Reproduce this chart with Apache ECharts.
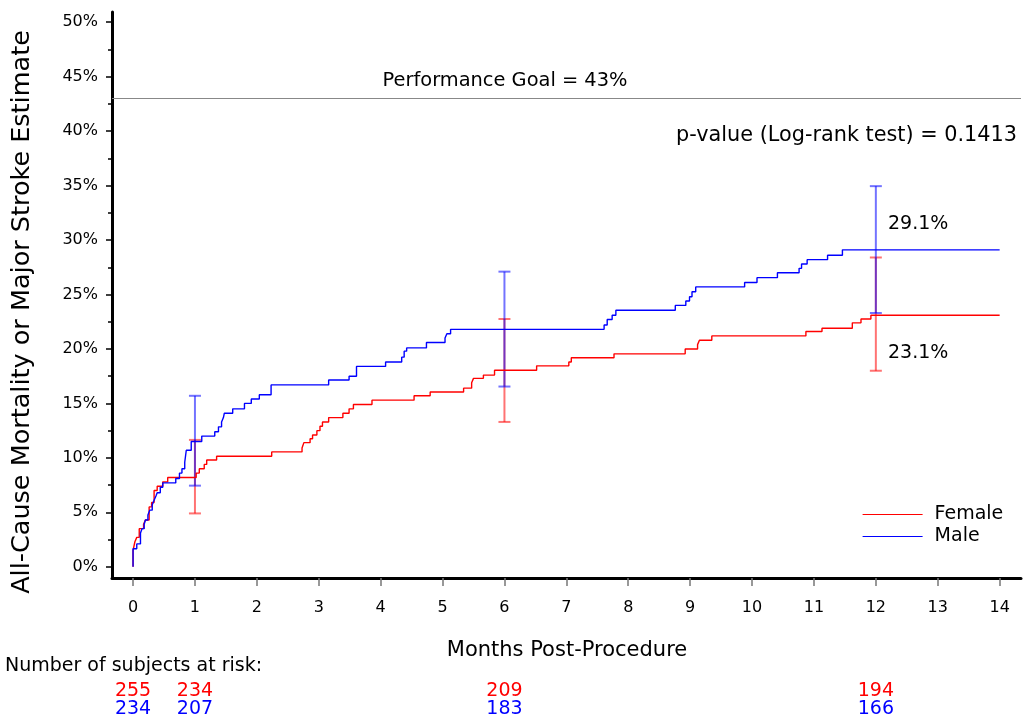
<!DOCTYPE html>
<html><head><meta charset="utf-8">
<script src="https://cdn.jsdelivr.net/npm/echarts@6/dist/echarts.min.js"></script>
<style>html,body{margin:0;padding:0;background:#fff}#c{width:1023px;height:719px}</style>
</head><body><div id="c"></div>
<script>
// Kaplan-Meier step curves: [month, estimate %]
const femaleCurve = [[0,0],[0,1.5],[0.03,2.3],[0.06,2.7],[0.10,3.5],[0.17,3.9],[0.20,4.3],[0.26,5.5],[0.30,5.9],[0.34,7.0],[0.39,7.4],[0.48,7.8],[0.56,8.2],[1.02,8.6],[1.07,9.0],[1.15,9.4],[1.19,9.8],[1.35,10.15],[2.24,10.55],[2.73,10.9],[2.76,11.4],[2.86,11.75],[2.90,12.1],[2.97,12.5],[3.02,12.9],[3.06,13.3],[3.16,13.7],[3.39,14.1],[3.49,14.5],[3.56,14.9],[3.86,15.3],[4.54,15.7],[4.80,16.05],[5.34,16.4],[5.47,16.9],[5.50,17.3],[5.66,17.6],[5.84,18.05],[6.52,18.45],[7.04,18.8],[7.08,19.2],[7.77,19.55],[8.92,20.0],[9.12,20.4],[9.15,20.8],[9.35,21.2],[10.87,21.6],[11.13,21.9],[11.62,22.4],[11.76,22.75],[11.92,23.1],[14.0,23.1]];
const maleCurve = [[0,0],[0,1.65],[0.06,2.1],[0.12,3.1],[0.145,3.5],[0.18,3.9],[0.20,4.3],[0.24,4.75],[0.27,5.2],[0.31,5.7],[0.34,6.1],[0.37,6.5],[0.39,6.8],[0.44,7.3],[0.48,7.7],[0.69,8.1],[0.75,8.6],[0.79,9.0],[0.835,9.6],[0.86,10.7],[0.94,11.5],[1.11,12.0],[1.32,12.4],[1.38,12.85],[1.43,13.3],[1.46,13.7],[1.475,14.1],[1.61,14.5],[1.80,15.0],[1.91,15.4],[2.04,15.8],[2.23,16.7],[3.16,17.15],[3.49,17.5],[3.61,18.4],[4.08,18.8],[4.34,19.25],[4.38,19.8],[4.42,20.1],[4.74,20.6],[5.04,21.0],[5.07,21.4],[5.13,21.8],[7.61,22.2],[7.66,22.7],[7.74,23.1],[7.80,23.55],[8.76,24.0],[8.93,24.4],[8.99,24.8],[9.03,25.25],[9.09,25.7],[9.88,26.1],[10.08,26.55],[10.41,27.0],[10.76,27.4],[10.80,27.8],[10.89,28.2],[11.22,28.6],[11.46,29.1],[14.0,29.1]];

const ciTimes = [1, 6, 12];
const femaleLow = [4.9, 13.3, 18.0];
const femaleHigh = [11.65, 22.75, 28.4];
const maleLow = [7.45, 16.55, 23.3];
const maleHigh = [15.7, 27.1, 34.95];

const riskTimes = [0, 1, 6, 12];
const riskFemale = [255, 234, 209, 194];
const riskMale = [234, 207, 183, 166];

const xTicks = [0,1,2,3,4,5,6,7,8,9,10,11,12,13,14];
const yMajorTicks = [0,5,10,15,20,25,30,35,40,45,50];
const yMinorTicks = [2.5,7.5,12.5,17.5,22.5,27.5,32.5,37.5,42.5,47.5];

const goal = 43;
const pValue = '0.1413';
const finalFemale = '23.1%';
const finalMale = '29.1%';

const FONT = 'DejaVu Sans';
const RED = '#ff0000', BLUE = '#0000ff';
const X_MIN = -0.34, X_MAX = 14.345, Y_MIN = -1.03, Y_MAX = 50.94;

const chart = echarts.init(document.getElementById('c'), null, {renderer: 'canvas'});

function ciSeries(name, low, high, color) {
  return {
    type: 'custom', name: name + ' CI', xAxisIndex: 0, yAxisIndex: 0, clip: false, silent: true, z: 3,
    data: ciTimes.map((t, i) => [t, low[i], high[i]]),
    renderItem: function (params, api) {
      const lo = api.coord([api.value(0), api.value(1)]);
      const hi = api.coord([api.value(0), api.value(2)]);
      const hw = 6;
      const st = {stroke: color, lineWidth: 2, opacity: 0.55};
      return {type: 'group', children: [
        {type: 'line', shape: {x1: lo[0], y1: lo[1], x2: hi[0], y2: hi[1]}, style: st},
        {type: 'line', shape: {x1: lo[0]-hw, y1: lo[1], x2: lo[0]+hw, y2: lo[1]}, style: st},
        {type: 'line', shape: {x1: hi[0]-hw, y1: hi[1], x2: hi[0]+hw, y2: hi[1]}, style: st}
      ]};
    }
  };
}

function riskAxis(values, color, offset) {
  return {
    type: 'value', position: 'bottom', offset: offset, min: X_MIN, max: X_MAX, gridIndex: 0,
    axisLine: {show: false}, axisTick: {show: false}, splitLine: {show: false},
    axisLabel: {
      show: true, customValues: riskTimes, margin: 4, color: color, fontFamily: FONT, fontSize: 19,
      formatter: function (v) { const i = riskTimes.indexOf(v); return i >= 0 ? String(values[i]) : ''; }
    }
  };
}

chart.setOption({
  animation: false,
  backgroundColor: '#ffffff',
  grid: {left: 112, right: 2, top: 12, bottom: 139, containLabel: false},
  xAxis: [
    {
      type: 'value', position: 'bottom', min: X_MIN, max: X_MAX,
      axisLine: {show: true, onZero: false, lineStyle: {color: '#000', width: 3}},
      axisTick: {show: true, customValues: xTicks, length: 8, lineStyle: {color: '#777', width: 1.5}},
      axisLabel: {show: true, customValues: xTicks, margin: 22, color: '#000', fontFamily: FONT, fontSize: 16},
      splitLine: {show: false}
    },
    riskAxis(riskFemale, RED, 100),
    riskAxis(riskMale, BLUE, 118)
  ],
  yAxis: [
    {
      type: 'value', position: 'left', min: Y_MIN, max: Y_MAX,
      axisLine: {show: true, onZero: false, lineStyle: {color: '#000', width: 3}},
      axisTick: {show: true, customValues: yMajorTicks, length: 6, lineStyle: {color: '#000', width: 1.5}},
      axisLabel: {show: true, customValues: yMajorTicks, margin: 14, color: '#000', fontFamily: FONT, fontSize: 16,
        formatter: v => v + '%'},
      splitLine: {show: false}
    },
    {
      type: 'value', position: 'left', min: Y_MIN, max: Y_MAX,
      axisLine: {show: false, onZero: false},
      axisTick: {show: true, customValues: yMinorTicks, length: 4, lineStyle: {color: '#000', width: 1.5}},
      axisLabel: {show: false},
      splitLine: {show: false}
    }
  ],
  legend: {
    show: true, orient: 'vertical', left: 862, top: 505, itemGap: 3, padding: 0,
    itemWidth: 60, itemHeight: 19,
    itemStyle: {opacity: 0},
    lineStyle: {width: 1.2},
    textStyle: {fontFamily: FONT, fontSize: 19, color: '#000', padding: [3, 0, 0, 7]},
    data: ['Female', 'Male'],
    selectedMode: false
  },
  series: [
    {
      name: 'Female', type: 'line', step: 'end', data: femaleCurve, showSymbol: false, symbol: 'none',
      xAxisIndex: 0, yAxisIndex: 0, color: RED, itemStyle: {color: RED}, lineStyle: {color: RED, width: 1.4}, z: 4,
      markLine: {
        silent: true, symbol: ['none', 'none'], label: {show: false},
        lineStyle: {color: '#888', width: 1.2, type: 'solid'},
        data: [{yAxis: goal}]
      }
    },
    {
      name: 'Male', type: 'line', step: 'end', data: maleCurve, showSymbol: false, symbol: 'none',
      xAxisIndex: 0, yAxisIndex: 0, color: BLUE, itemStyle: {color: BLUE}, lineStyle: {color: BLUE, width: 1.4}, z: 4
    },
    ciSeries('Female', femaleLow, femaleHigh, RED),
    ciSeries('Male', maleLow, maleHigh, BLUE)
  ],
  graphic: [
    {type: 'text', x: 22, y: 312, rotation: Math.PI / 2,
      style: {text: 'All-Cause Mortality or Major Stroke Estimate', fill: '#000', font: '25.5px "DejaVu Sans"', textAlign: 'center', textVerticalAlign: 'middle'}},
    {type: 'text', x: 505, y: 81,
      style: {text: 'Performance Goal = ' + goal + '%', fill: '#000', font: '19.4px "DejaVu Sans"', textAlign: 'center', textVerticalAlign: 'middle'}},
    {type: 'text', x: 1017, y: 136,
      style: {text: 'p-value (Log-rank test) = ' + pValue, fill: '#000', font: '20.8px "DejaVu Sans"', textAlign: 'right', textVerticalAlign: 'middle'}},
    {type: 'text', x: 888, y: 224,
      style: {text: finalMale, fill: '#000', font: '19px "DejaVu Sans"', textAlign: 'left', textVerticalAlign: 'middle'}},
    {type: 'text', x: 888, y: 353,
      style: {text: finalFemale, fill: '#000', font: '19px "DejaVu Sans"', textAlign: 'left', textVerticalAlign: 'middle'}},
    {type: 'text', x: 567, y: 651,
      style: {text: 'Months Post-Procedure', fill: '#000', font: '21px "DejaVu Sans"', textAlign: 'center', textVerticalAlign: 'middle'}},
    {type: 'text', x: 5, y: 666,
      style: {text: 'Number of subjects at risk:', fill: '#000', font: '19px "DejaVu Sans"', textAlign: 'left', textVerticalAlign: 'middle'}}
  ]
});
</script>
</body></html>
